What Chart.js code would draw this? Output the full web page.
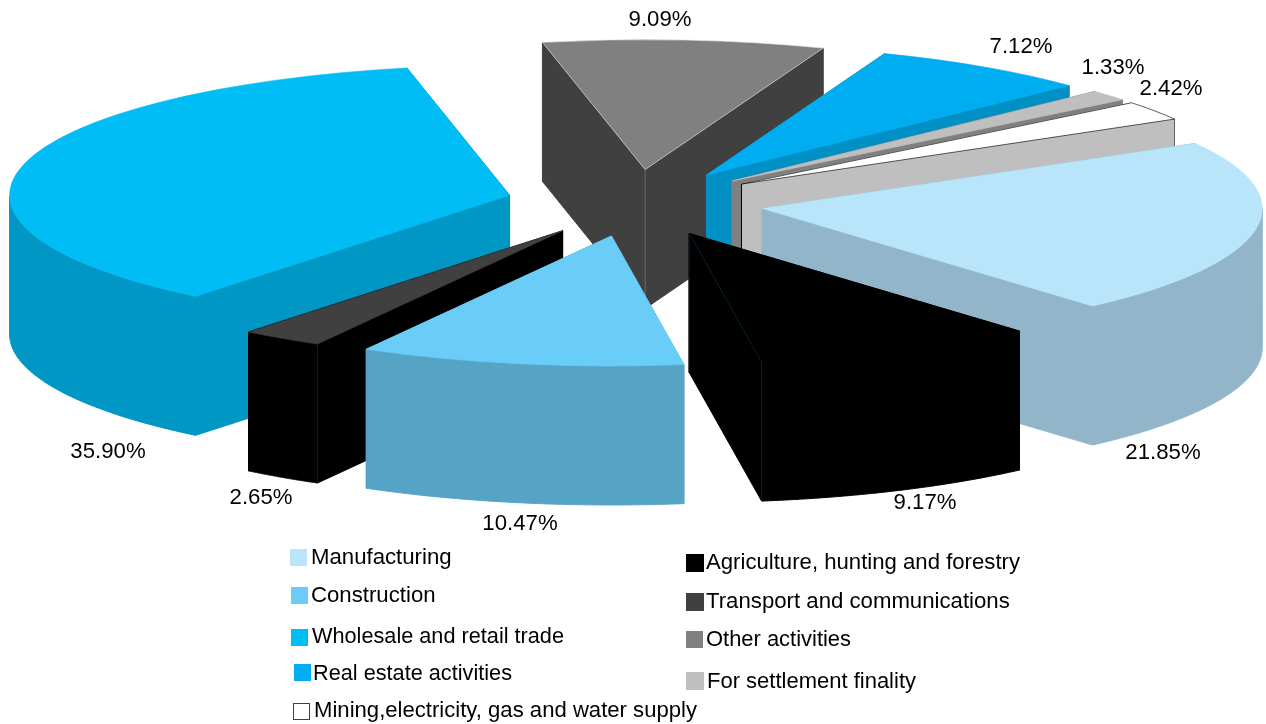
<!DOCTYPE html>
<html>
<head>
<meta charset="utf-8">
<style>
html,body{margin:0;padding:0;background:#fff;}
#wrap{position:relative;width:1266px;height:724px;overflow:hidden;}
</style>
<script src="https://cdn.jsdelivr.net/npm/chart.js@4/dist/chart.umd.min.js"></script>
</head>
<body>
<div id="wrap"><canvas id="c" width="1266" height="724"></canvas></div>
<script>
// Loan portfolio shares by sector, in percent
const categories = ['Manufacturing','Agriculture, hunting and forestry','Construction','Transport and communications','Wholesale and retail trade','Other activities','Real estate activities','For settlement finality','Mining,electricity, gas and water supply'];
const shares = [21.85,9.17,10.47,2.65,35.90,9.09,7.12,1.33,2.42];
const topColors = ['#B8E5FA','#000000','#6ACDF8','#404040','#00BDF6','#808080','#00ADF0','#BFBFBF','#FFFFFF'];
const sideColors = ['#93B5C9','#000000','#55A4C6','#000000','#0097C5','#404040','#0090C4','#808080','#BFBFBF'];
const edgeColors = ['#B8E5FA','#000000','#6ACDF8','#404040','#00BDF6','#E8E8E8','#00ADF0','#BFBFBF','#000000'];
// Thin vertical seams on the walls: at the tip, and at one outer corner
const tipSeams = [null,'#06222C',null,null,null,'#6A6A6A',null,null,'#000000'];
const cornerSeams = [null,['end','#06222C'],null,['start','#06222C'],null,null,null,null,['end','#606060']];

// Layout of the tilted pie
const TILT = 0.26, DEPTH = 139, EXPLODE = 129, RADIUS = 500;
const CX = 635, CY = 203;

// Text placement: [x, y] centre of each percentage label, in category order
const percentAnchors = [[1163,453],[925,503],[520,524],[261,498],[108,452],[660,20],[1021,47],[1113,68],[1171,89]];
// Legend rows: [swatch x, swatch y, swatch size, text x, text y, text width], in category order
const legendRows = [[290,549,17,311,558,141],[686,554,18,706,563,314],[291,587,17,311,596,125],[686,593,18,706,602,304],[291,629,17,312,637,252],[686,631,17,706,640,145],[294,664,17,313,674,199],[686,672,18,707,682,209],[293,703,17,314,711,383]];
const FONT = '22.2px "Liberation Sans"';

const tiltedPie = {
  id: 'tiltedPie',
  // The library's arcs supply radius and angles; each one is projected here
  beforeDatasetDraw(chart, args) {
    const ctx = chart.ctx;
    const arcs = chart.getDatasetMeta(args.index).data;
    const midOf = a => (a.startAngle + a.endAngle) / 2;
    const order = arcs.map((a, i) => i).sort((p, q) => Math.sin(midOf(arcs[p])) - Math.sin(midOf(arcs[q])));
    for (const i of order) {
      const a = arcs[i];
      const mid = midOf(a);
      const tx = CX + Math.cos(mid) * EXPLODE;
      const ty = CY + Math.sin(mid) * EXPLODE * TILT;
      const pt = t => [tx + Math.cos(t) * a.outerRadius, ty + Math.sin(t) * a.outerRadius * TILT];
      const band = pts => {
        ctx.beginPath();
        pts.forEach((p, k) => k ? ctx.lineTo(p[0], p[1]) : ctx.moveTo(p[0], p[1]));
        for (let k = pts.length - 1; k >= 0; k--) ctx.lineTo(pts[k][0], pts[k][1] + DEPTH);
        ctx.closePath();
        ctx.fill();
        ctx.stroke();
      };
      ctx.fillStyle = sideColors[i];
      ctx.strokeStyle = sideColors[i];
      ctx.lineWidth = 1;
      // Flat cut faces
      band([[tx, ty], pt(a.startAngle)]);
      band([[tx, ty], pt(a.endAngle)]);
      // Curved rim: only the part facing the viewer
      const STEPS = 120;
      const rim = [];
      for (let k = 0; k <= STEPS; k++) {
        const t = a.startAngle + (a.endAngle - a.startAngle) * k / STEPS;
        if (Math.sin(t) >= 0) rim.push(pt(t));
      }
      if (rim.length > 1) band(rim);
      const seam = (x, y, colour) => {
        ctx.beginPath();
        ctx.moveTo(x, y);
        ctx.lineTo(x, y + DEPTH);
        ctx.strokeStyle = colour;
        ctx.stroke();
      };
      if (tipSeams[i]) seam(tx, ty, tipSeams[i]);
      let corner = null;
      if (cornerSeams[i]) {
        corner = pt(cornerSeams[i][0] === 'start' ? a.startAngle : a.endAngle);
        seam(corner[0], corner[1], cornerSeams[i][1]);
      }
      // Top face: the library's own arc under a flattening transform
      ctx.save();
      ctx.translate(tx, ty);
      ctx.scale(1, TILT);
      ctx.translate(-a.x, -a.y);
      a.draw(ctx);
      ctx.restore();
      // A face the same colour as its wall still shows the fold between them
      if (corner && edgeColors[i] === sideColors[i]) {
        ctx.beginPath();
        ctx.moveTo(tx, ty);
        ctx.lineTo(corner[0], corner[1]);
        ctx.strokeStyle = cornerSeams[i][1];
        ctx.stroke();
      }
    }
    return false;
  },
  afterDraw(chart) {
    const ctx = chart.ctx;
    ctx.save();
    ctx.font = FONT;
    ctx.fillStyle = '#000';
    ctx.textBaseline = 'middle';
    ctx.textAlign = 'center';
    shares.forEach((v, i) => ctx.fillText(v.toFixed(2) + '%', percentAnchors[i][0], percentAnchors[i][1]));
    ctx.textAlign = 'left';
    categories.forEach((name, i) => {
      const [sx, sy, s, tx, ty, w] = legendRows[i];
      ctx.fillStyle = topColors[i];
      ctx.fillRect(sx, sy, s, s);
      if (topColors[i] === '#FFFFFF') {
        ctx.strokeStyle = '#404040';
        ctx.lineWidth = 1;
        ctx.strokeRect(sx + .5, sy + .5, s - 1, s - 1);
      }
      ctx.fillStyle = '#000';
      ctx.fillText(name, tx, ty, w);
    });
    ctx.restore();
  }
};

new Chart(document.getElementById('c'), {
  type: 'pie',
  data: {
    labels: categories,
    datasets: [{
      data: shares,
      backgroundColor: topColors,
      borderColor: edgeColors,
      borderWidth: 1,
      borderAlign: 'center'
    }]
  },
  options: {
    responsive: false,
    animation: false,
    rotation: 60,
    radius: RADIUS,
    plugins: { legend: { display: false }, tooltip: { enabled: false } }
  },
  plugins: [tiltedPie]
});
</script>
</body>
</html>
